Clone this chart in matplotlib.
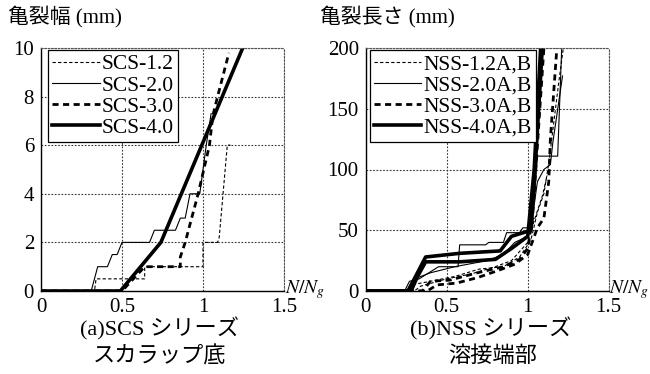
import matplotlib
matplotlib.use("Agg")
import matplotlib.pyplot as plt

plt.rcParams["font.family"] = ["Liberation Serif", "Noto Sans CJK JP"]
plt.rcParams["mathtext.fontset"] = "stix"

# (a) SCS series - crack width (mm) vs N/Ng
scs12_x = [0, 0.33, 0.34, 0.64, 0.64, 1.00, 1.00, 1.09, 1.10, 1.15, 1.17]
scs12_y = [0, 0, 0.5, 0.5, 1.0, 1.0, 2.0, 2.0, 2.2, 6.0, 6.0]
scs20_x = [0, 0.31, 0.35, 0.41, 0.44, 0.47, 0.50, 0.67, 0.70, 0.83, 0.86, 0.89, 0.92, 0.98, 1.02, 1.05]
scs20_y = [0, 0, 1.0, 1.0, 1.5, 1.5, 2.0, 2.0, 2.5, 2.5, 3.0, 3.0, 4.0, 4.0, 6.0, 7.3]
scs30_x = [0, 0.50, 0.64, 0.86, 0.86, 0.89, 0.97, 1.04, 1.06, 1.09, 1.16]
scs30_y = [0, 0, 1.0, 1.0, 1.4, 2.0, 4.0, 6.0, 7.2, 8.0, 9.8]
scs40_x = [0, 0.49, 0.74, 1.245]
scs40_y = [0, 0, 2.0, 10.0]

# (b) NSS series - crack length (mm) vs N/Ng, two specimens (A, B) each
nss12a_x = [0, 0.25, 0.28, 0.40, 0.55, 0.70, 0.85, 0.95, 1.02, 1.06, 1.10, 1.13, 1.19, 1.22]
nss12a_y = [0, 0, 5, 8, 12, 18, 20, 28, 42, 65, 80, 105, 170, 200]
nss12b_x = [0, 0.30, 0.34, 0.50, 0.65, 0.80, 0.90, 1.00, 1.04, 1.09, 1.12]
nss12b_y = [0, 0, 4, 10, 14, 20, 25, 40, 58, 78, 95]
nss20a_x = [0, 0.24, 0.27, 0.33, 0.45, 0.57, 0.58, 0.74, 0.76, 0.85, 0.87, 0.95, 0.97, 1.02, 1.06, 1.10, 1.14, 1.155, 1.215]
nss20a_y = [0, 0, 8, 10, 20, 20, 38, 38, 40, 40, 48, 48, 52, 52, 90, 100, 104, 122, 177]
nss20b_x = [0, 0.26, 0.30, 0.40, 0.55, 0.75, 0.85, 0.92, 1.00, 1.03, 1.06, 1.185, 1.21]
nss20b_y = [0, 0, 10, 15, 20, 25, 30, 40, 45, 60, 111, 111, 200]
nss30a_x = [0, 0.38, 0.44, 0.56, 0.69, 0.82, 0.92, 1.00, 1.06, 1.10, 1.13, 1.14, 1.18]
nss30a_y = [0, 0, 5, 6.5, 11, 17, 22, 30, 52, 60, 90, 125, 200]
nss30b_x = [0, 0.35, 0.40, 0.52, 0.69, 0.85, 0.95, 1.00, 1.03, 1.06, 1.10]
nss30b_y = [0, 0, 8, 9, 15, 20, 26, 35, 60, 120, 200]
nss40a_x = [0, 0.26, 0.30, 0.37, 0.58, 0.83, 0.90, 1.02, 1.05, 1.09]
nss40a_y = [0, 0, 10, 28, 31, 33, 45, 50, 110, 200]
nss40b_x = [0, 0.28, 0.32, 0.37, 0.58, 0.80, 0.90, 1.00, 1.04, 1.08]
nss40b_y = [0, 0, 12, 24, 24, 26, 35, 45, 100, 200]

x_ticks = [0, 0.5, 1, 1.5]
x_ticklabels = ["0", "0.5", "1", "1.5"]

# line styles for the four series
st12 = dict(color="black", lw=0.8, ls=(0, (3, 2)))
st20 = dict(color="black", lw=0.8, ls="-")
st30 = dict(color="black", lw=2.0, ls=(0, (2.2, 1.6)))
st40 = dict(color="black", lw=2.6, ls="-")

fig = plt.figure(figsize=(6.5, 3.74), dpi=100)
ax1 = fig.add_axes([41 / 650, 83 / 374, 243 / 650, 243 / 374])
ax2 = fig.add_axes([365.7 / 650, 83 / 374, 243 / 650, 243 / 374])


def style_axes(ax, ymax, yticks):
    ax.set_xlim(0, 1.5)
    ax.set_ylim(0, ymax)
    ax.set_xticks(x_ticks)
    ax.set_xticklabels(x_ticklabels)
    ax.set_yticks(yticks)
    ax.tick_params(length=0, labelsize=15, pad=5)
    ax.grid(True, color="#333333", lw=0.8, ls=(0, (1.5, 1.5)))
    for s in ["top", "right"]:
        ax.spines[s].set_linestyle((0, (1.5, 1.5)))
        ax.spines[s].set_color("#555555")
    for s in ["left", "bottom"]:
        ax.spines[s].set_linewidth(1.0)
    ax.set_axisbelow(True)
    ax.text(1.003, 0.005, "$N/N_g$", transform=ax.transAxes, fontsize=14,
            ha="left", va="center")


style_axes(ax1, 10, [0, 2, 4, 6, 8, 10])
style_axes(ax2, 200, [0, 50, 100, 150, 200])

ax1.plot(scs12_x, scs12_y, label="SCS-1.2", **st12)
ax1.plot(scs20_x, scs20_y, label="SCS-2.0", **st20)
ax1.plot(scs30_x, scs30_y, label="SCS-3.0", **st30)
ax1.plot(scs40_x, scs40_y, label="SCS-4.0", **st40)

ax2.plot(nss12a_x, nss12a_y, label="NSS-1.2A,B", **st12)
ax2.plot(nss12b_x, nss12b_y, **st12)
ax2.plot(nss20a_x, nss20a_y, label="NSS-2.0A,B", **st20)
ax2.plot(nss20b_x, nss20b_y, **st20)
ax2.plot(nss30a_x, nss30a_y, label="NSS-3.0A,B", **st30)
ax2.plot(nss30b_x, nss30b_y, **st30)
ax2.plot(nss40a_x, nss40a_y, label="NSS-4.0A,B", **st40)
ax2.plot(nss40b_x, nss40b_y, **st40)

for ax, dx in [(ax1, 7), (ax2, 4)]:
    leg = ax.legend(loc="upper left", bbox_to_anchor=(dx / 243, 1 - 2 / 243),
                    borderaxespad=0, fontsize=15.5, handlelength=2.2,
                    handletextpad=0.1, labelspacing=0.05, borderpad=0.2,
                    fancybox=False, framealpha=1, edgecolor="black")
    leg.get_frame().set_linewidth(0.9)

# axis titles and captions
fig.text(8 / 650, 1 - 17 / 374, "亀裂幅 (mm)", fontsize=15, ha="left", va="center")
fig.text(320 / 650, 1 - 17 / 374, "亀裂長さ (mm)", fontsize=15, ha="left", va="center")
fig.text(159 / 650, 1 - 329 / 374, "(a)SCS シリーズ", fontsize=16, ha="center", va="center")
fig.text(160 / 650, 1 - 357 / 374, "スカラップ底", fontsize=16, ha="center", va="center")
fig.text(491 / 650, 1 - 329 / 374, "(b)NSS シリーズ", fontsize=16, ha="center", va="center")
fig.text(493 / 650, 1 - 357 / 374, "溶接端部", fontsize=16, ha="center", va="center")

fig.savefig("out.png", dpi=100)
